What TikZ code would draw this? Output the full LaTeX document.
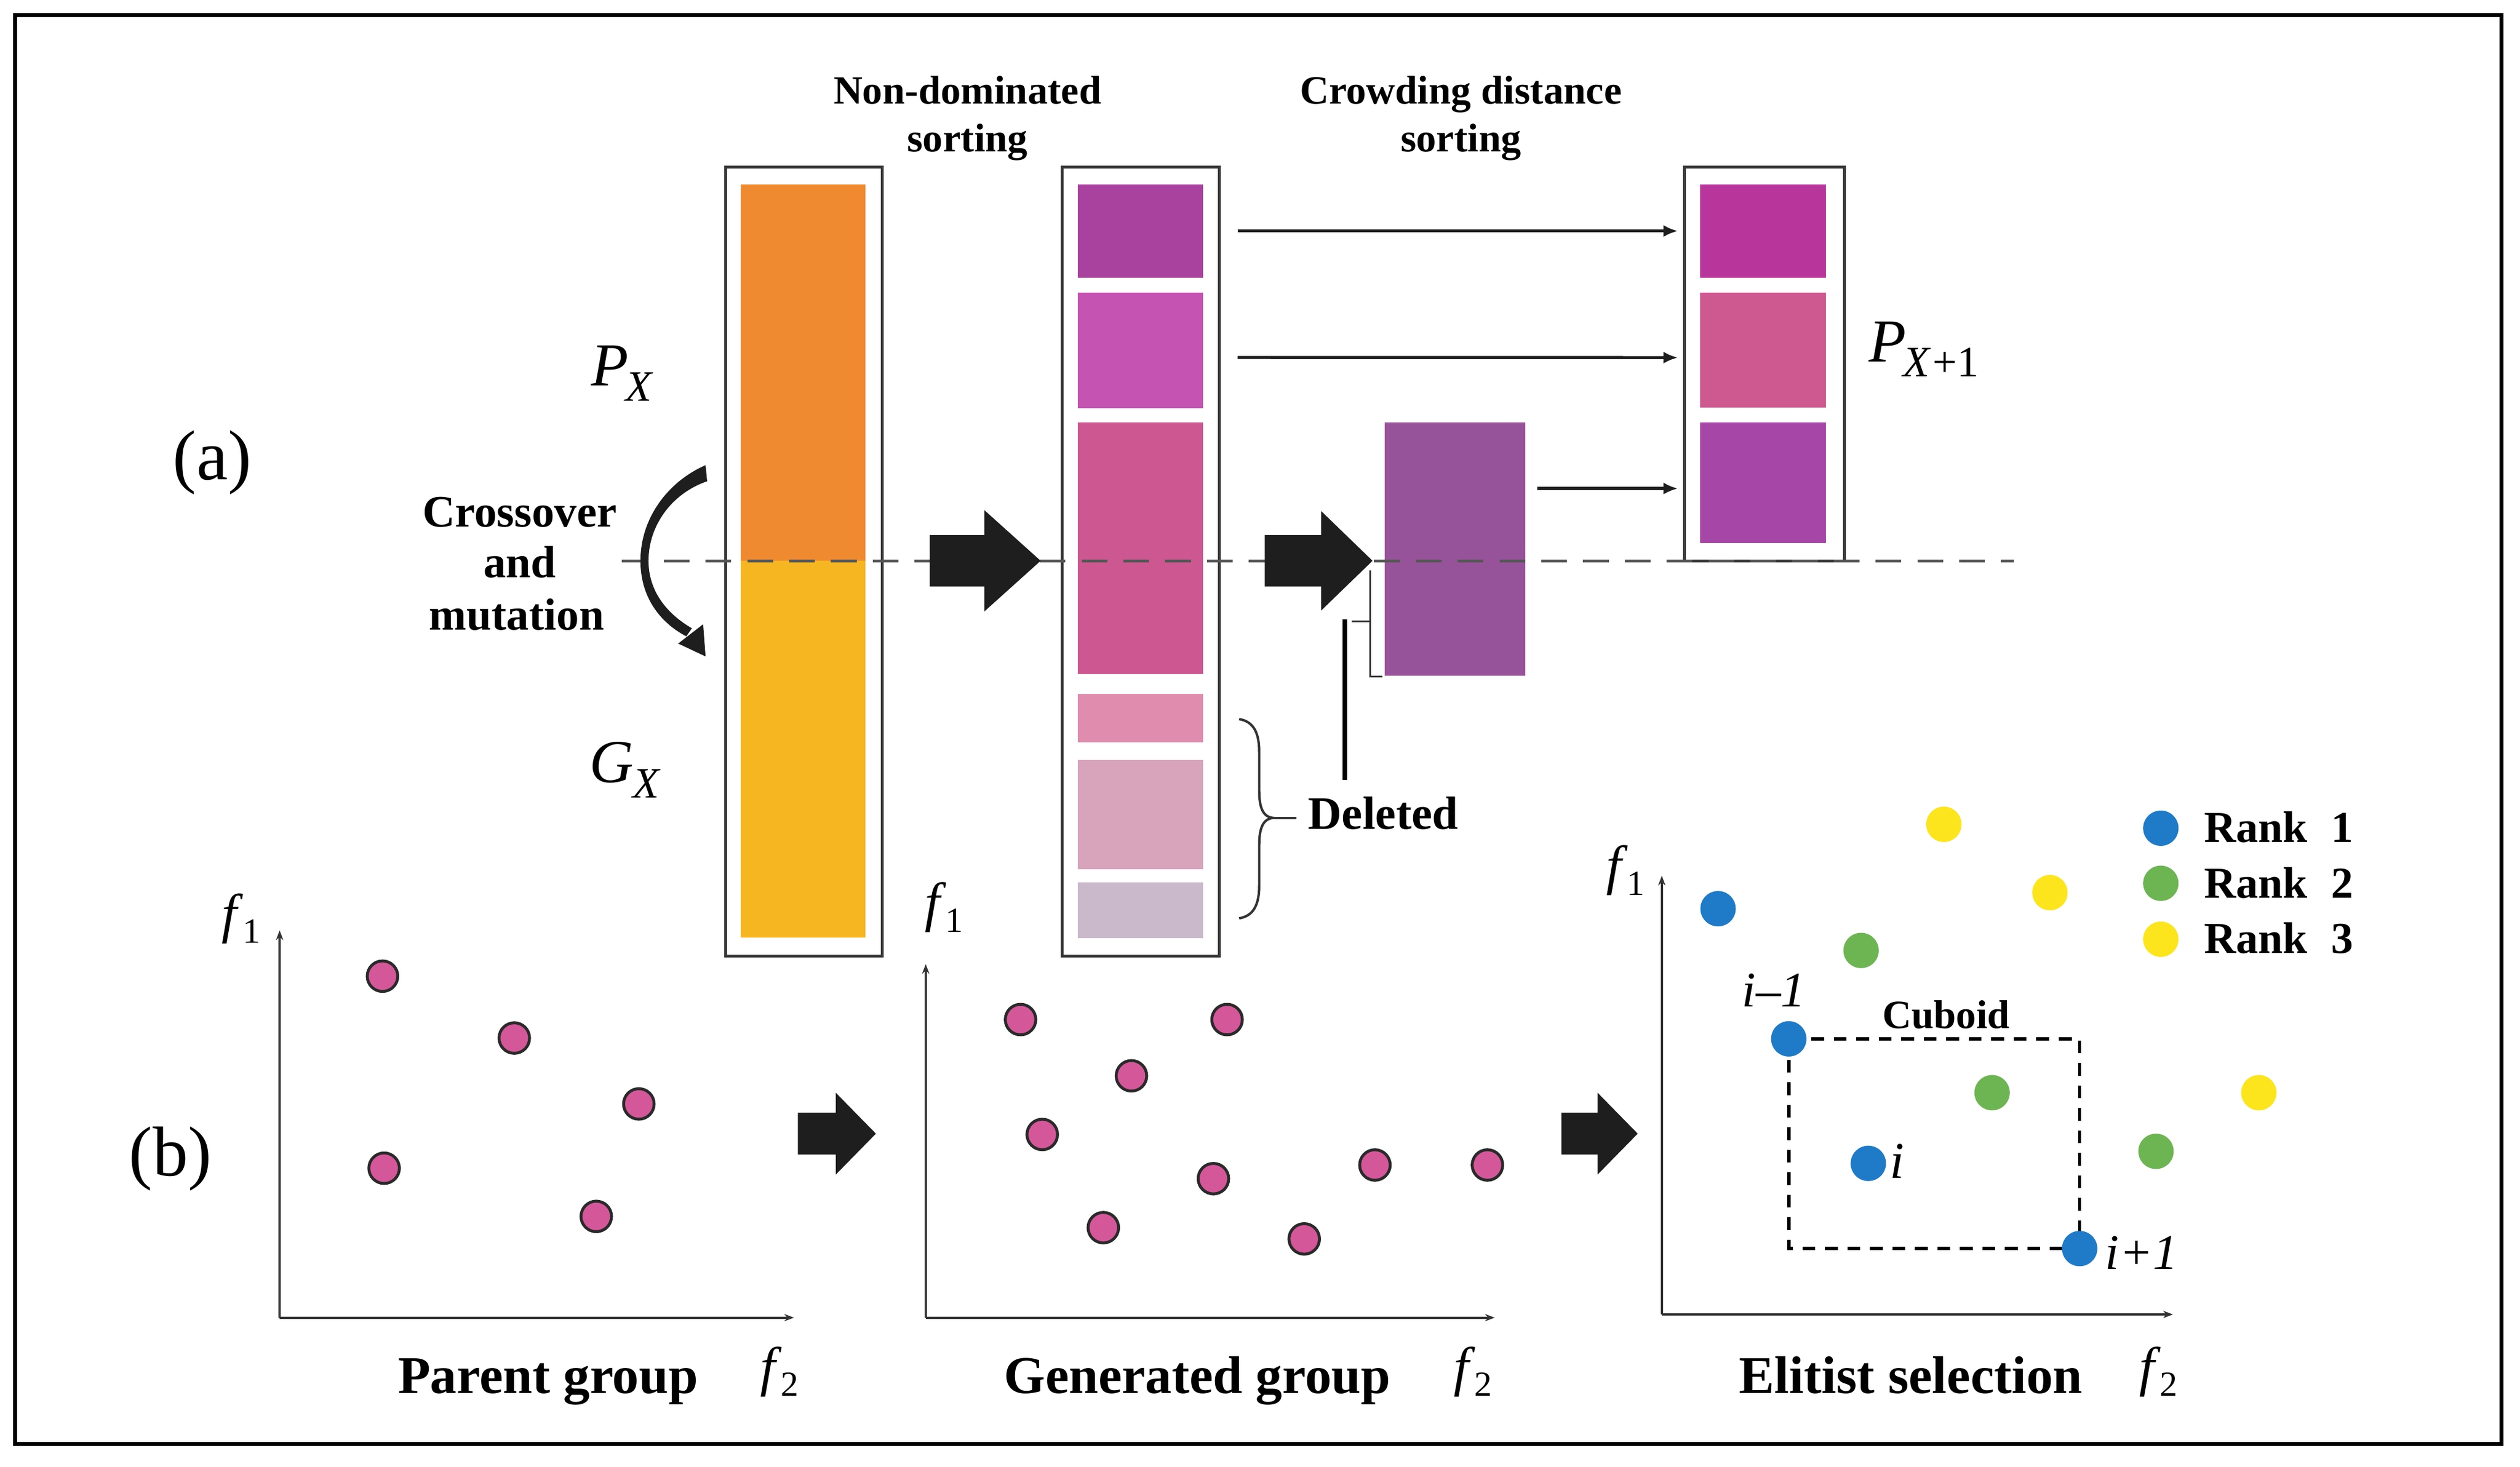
\documentclass[tikz,border=0pt]{standalone}
\usepackage{fontspec}
\setmainfont{Liberation Serif}
\usetikzlibrary{arrows.meta}
\definecolor{orangeC}{HTML}{F08A30}
\definecolor{yellowC}{HTML}{F6B621}
\definecolor{sA}{HTML}{A8429E}
\definecolor{sB}{HTML}{C453B1}
\definecolor{sC}{HTML}{CD5790}
\definecolor{sD}{HTML}{E08CAF}
\definecolor{sE}{HTML}{D8A4BC}
\definecolor{sF}{HTML}{CAB9CB}
\definecolor{qA}{HTML}{B8369B}
\definecolor{qB}{HTML}{CE5890}
\definecolor{qC}{HTML}{A646A7}
\definecolor{crowdC}{HTML}{97539A}
\definecolor{pinkdot}{HTML}{D4579A}
\definecolor{dotline}{HTML}{2A2A2A}
\definecolor{blueC}{HTML}{1F7BC8}
\definecolor{greenC}{HTML}{6DB553}
\definecolor{yellowD}{HTML}{FDE51E}
\definecolor{boxc}{HTML}{383838}
\definecolor{arrowc}{HTML}{1E1E1E}
\definecolor{dashc}{HTML}{555555}
\definecolor{axisc}{HTML}{333333}
\newcommand{\fsz}[1]{\fontsize{#1pt}{#1pt}\selectfont}
\newcommand{\flab}[1]{\textit{f}\kern-0.5pt\raisebox{-7pt}{\fsz{22}#1}}
\begin{document}
\begin{tikzpicture}[x=1pt,y=-1pt,
  every node/.style={inner sep=0pt, outer sep=0pt},
  colbox/.style={draw=boxc, line width=1.8pt, fill=white},
  seg/.style={minimum width=78pt},
  toplbl/.style={font=\fsz{25}\bfseries, anchor=base},
  sidelbl/.style={font=\fsz{28}\bfseries, anchor=base},
  botlbl/.style={font=\fsz{33}\bfseries, anchor=base},
  rlbl/.style={font=\fsz{27.5}\bfseries, anchor=base west},
  ilbl/.style={font=\fsz{31}\itshape, anchor=base west},
  flbl/.style={font=\fsz{34}, anchor=base},
  biglbl/.style={font=\fsz{38}, anchor=base west},
  thinarr/.style={draw=arrowc, line width=1.9pt, -{Latex[length=9pt,width=7.5pt]}},
  axis/.style={draw=axisc, line width=1.5pt, -{Stealth[length=6pt,width=4.5pt]}},
  pdot/.style={circle, fill=pinkdot, draw=dotline, line width=1.8pt, minimum size=19pt},
  rdot/.style={circle, minimum size=22pt},
  cub/.style={draw=black, line width=2pt, dash pattern=on 8pt off 6pt}]
\useasboundingbox (0,0) rectangle (1568,912.6);
\fill[white] (0,0) rectangle (1568,912.6);
\draw[line width=2.5pt] (9.5,9.5) rectangle (1556.5,898.5);

% ---------- (a) columns
\node[colbox, minimum width=97.5pt, minimum height=491pt] (colP) at (500.25,349.5) {};
\node[minimum width=77.5pt, minimum height=234.3pt, fill=orangeC] (px) at (499.75,231.85) {};
\node[minimum width=77.5pt, minimum height=234.5pt, fill=yellowC] (gx) at (499.75,466.25) {};
\node[colbox, minimum width=97.5pt, minimum height=491pt] (colS) at (709.75,349.5) {};
\node[seg, minimum height=58.1pt, fill=sA] (s1) at (709.5,143.75) {};
\node[seg, minimum height=72pt, fill=sB] (s2) at (709.5,218) {};
\node[seg, minimum height=156.6pt, fill=sC] (s3) at (709.5,341.3) {};
\node[seg, minimum height=30pt, fill=sD] (s4) at (709.5,447) {};
\node[seg, minimum height=68pt, fill=sE] (s5) at (709.5,507) {};
\node[seg, minimum height=35pt, fill=sF] (s6) at (709.5,566.5) {};
\node[colbox, minimum width=99.5pt, minimum height=245pt] (colQ) at (1097.75,226.5) {};
\node[seg, minimum height=58.1pt, fill=qA] (q1) at (1097,143.75) {};
\node[seg, minimum height=71.7pt, fill=qB] (q2) at (1097,217.85) {};
\node[seg, minimum height=75pt, fill=qC] (q3) at (1097,300.5) {};
\node[minimum width=87.5pt, minimum height=157.5pt, fill=crowdC] (cr) at (905.25,341.75) {};

% dashed level line
\coordinate (dl) at (387,349);
\coordinate (dr) at (1253,349);
\draw[dashc, line width=1.7pt, dash pattern=on 16pt off 10pt] (dl) -- (dr);

% block arrows
\fill[arrowc] (578.5,333) -- (612.5,333) -- (612.5,317.5) -- (647.5,349) -- (612.5,380.5) -- (612.5,365) -- (578.5,365) -- cycle;
\fill[arrowc] (787,333) -- (822,333) -- (822,318) -- (854,349) -- (822,380) -- (822,365) -- (787,365) -- cycle;

% curved arrow (crossover and mutation)
\fill[arrowc] (439,289.5) .. controls (415,300) and (398.5,323) .. (398.5,349)
  .. controls (398.5,371) and (410,387) .. (427,396) -- (430.5,391)
  .. controls (415,382) and (403.5,368) .. (403.5,349)
  .. controls (403.5,327) and (418,307) .. (440,299.5) -- cycle;
\fill[arrowc] (422,400.5) -- (437.5,388.5) -- (439,408.5) -- cycle;

% thin arrows
\draw[thinarr] ([xshift=21.5pt]s1.east) -- ([xshift=-14pt]q1.west);
\draw[thinarr] ([xshift=21.5pt,yshift=-4.5pt]s2.east) -- ([xshift=-14pt,yshift=-4.7pt]q2.west);
\draw[thinarr] ([xshift=7.5pt,yshift=37.75pt]cr.east) -- ([xshift=-14pt,yshift=-3.5pt]q3.west);

% small bracket and bar
\draw[axisc, line width=1.1pt] (852.5,355) -- (852.5,421) -- (860,421);
\draw[axisc, line width=1.1pt] (841,386.6) -- (852.5,386.6);
\coordinate (bartop) at (836.8,385.6);
\coordinate (barbot) at (836.8,485.5);
\draw[black, line width=3pt] (bartop) -- (barbot);

% brace
\draw[axisc, line width=1.5pt] (771,447.5) .. controls (780,449) and (783.5,456) .. (783.5,468)
  -- (783.5,492) .. controls (783.5,503) and (786,508.5) .. (792.3,509)
  .. controls (786,509.5) and (783.5,515) .. (783.5,526) -- (783.5,551)
  .. controls (783.5,563) and (780,570) .. (771,571.5);
\coordinate (bracetip) at (792.3,509);
\node[font=\fsz{29}\bfseries, anchor=base west] (del) at (814,516) {Deleted};
\draw[axisc, line width=1.5pt] (bracetip) -- ([xshift=-7.5pt]del.west |- bracetip);

% labels (a)
\node[toplbl] (nd1) at (602,64.5) {Non-dominated};
\node[toplbl] (nd2) at (602,94.5) {sorting};
\node[toplbl] (cd1) at (909,64.5) {Crowding distance};
\node[toplbl] (cd2) at (909,94.5) {sorting};
\node[sidelbl] (cm1) at (323.5,327.7) {Crossover};
\node[sidelbl] (cm2) at (323.5,359.5) {and};
\node[sidelbl] (cm3) at (321.5,392) {mutation};
\node[font=\fsz{44}] (la) at (132,288) {(a)};
\node[font=\fsz{44}] (lb) at (106,721) {(b)};
\node[biglbl] (PX) at (368,240) {\textit{P}\kern-2pt\raisebox{-9.5pt}{\fsz{27}\textit{X}}};
\node[biglbl] (GX) at (367,487) {\textit{G}\kern-0.5pt\raisebox{-9.5pt}{\fsz{27}\textit{X}}};
\node[biglbl] (PX1) at (1163,225) {\textit{P}\kern-2pt\raisebox{-9.5pt}{\fsz{27}\textit{X}\kern1pt+1}};

% ---------- (b) plots
\coordinate (o1) at (174,820);
\draw[axis] (o1) -- (174,579);
\draw[axis] (o1) -- (494,820);
\coordinate (o2) at (576,820);
\draw[axis] (o2) -- (576,600);
\draw[axis] (o2) -- (930,820);
\coordinate (o3) at (1034,818);
\draw[axis] (o3) -- (1034,545);
\draw[axis] (o3) -- (1352,818);

\node[flbl] (f11) at (150,580) {\flab{1}};
\node[flbl] (f21) at (485,862) {\flab{2}};
\node[flbl] (f12) at (587.5,573) {\flab{1}};
\node[flbl] (f22) at (916.5,862) {\flab{2}};
\node[flbl] (f13) at (1011.5,550) {\flab{1}};
\node[flbl] (f23) at (1343,862) {\flab{2}};

\node[botlbl] (pg) at (341,867) {Parent group};
\node[botlbl] (gg) at (745,867) {Generated group};
\node[botlbl] (es) at (1189,867) {Elitist selection};

% block arrows (b)
\fill[arrowc] (496.5,692.5) -- (520,692.5) -- (520,680) -- (545,705.5) -- (520,731) -- (520,718.5) -- (496.5,718.5) -- cycle;
\fill[arrowc] (971.5,692.5) -- (994,692.5) -- (994,680) -- (1019,705.5) -- (994,731) -- (994,718.5) -- (971.5,718.5) -- cycle;

% parent dots
\node[pdot] (p1) at (238,607.5) {};
\node[pdot] (p2) at (320,646) {};
\node[pdot] (p3) at (397.5,687) {};
\node[pdot] (p4) at (239,727) {};
\node[pdot] (p5) at (371,757) {};
% generated dots
\node[pdot] (g1) at (635,634.5) {};
\node[pdot] (g2) at (763.5,634.5) {};
\node[pdot] (g3) at (704,669.5) {};
\node[pdot] (g4) at (648.5,706) {};
\node[pdot] (g5) at (755,733.5) {};
\node[pdot] (g6) at (686.5,764) {};
\node[pdot] (g7) at (855.5,725) {};
\node[pdot] (g8) at (925.5,725) {};
\node[pdot] (g9) at (811.5,771) {};

% elitist selection
\coordinate (ci1) at (1113,646.5);
\coordinate (ci3) at (1294,777);
\draw[cub] (ci1) -| (ci3) -| (ci1);
\node[rdot, fill=blueC] (b1) at (1069,565.5) {};
\node[rdot, fill=greenC] (gr1) at (1158,591.5) {};
\node[rdot, fill=yellowD] (y1) at (1209.5,513) {};
\node[rdot, fill=yellowD] (y2) at (1275.5,555.5) {};
\node[rdot, fill=blueC] (bim) at (ci1) {};
\node[rdot, fill=greenC] (gr2) at (1239.5,680) {};
\node[rdot, fill=yellowD] (y3) at (1405.5,680) {};
\node[rdot, fill=greenC] (gr3) at (1341.5,716.5) {};
\node[rdot, fill=blueC] (bi) at (1162.5,724) {};
\node[rdot, fill=blueC] (bip) at (ci3) {};

\node[ilbl] (lim) at (1084,626.5) {i–1};
\node[ilbl, font=\fsz{32}\itshape] (li) at (1176,733) {i};
\node[ilbl] (lip) at (1310,790) {i+1};
\node[font=\fsz{25}\bfseries, anchor=base] (cub) at (1211,640) {Cuboid};

% legend
\node[rdot, fill=blueC] (l1) at (1344.5,515.4) {};
\node[rdot, fill=greenC] (l2) at (1344.5,549.7) {};
\node[rdot, fill=yellowD] (l3) at (1344.5,584.5) {};
\node[rlbl] (t1) at (1371.5,524.3) {Rank\hspace{15pt}1};
\node[rlbl] (t2) at (1371.5,559) {Rank\hspace{15pt}2};
\node[rlbl] (t3) at (1371.5,593.3) {Rank\hspace{15pt}3};
\end{tikzpicture}
\end{document}
